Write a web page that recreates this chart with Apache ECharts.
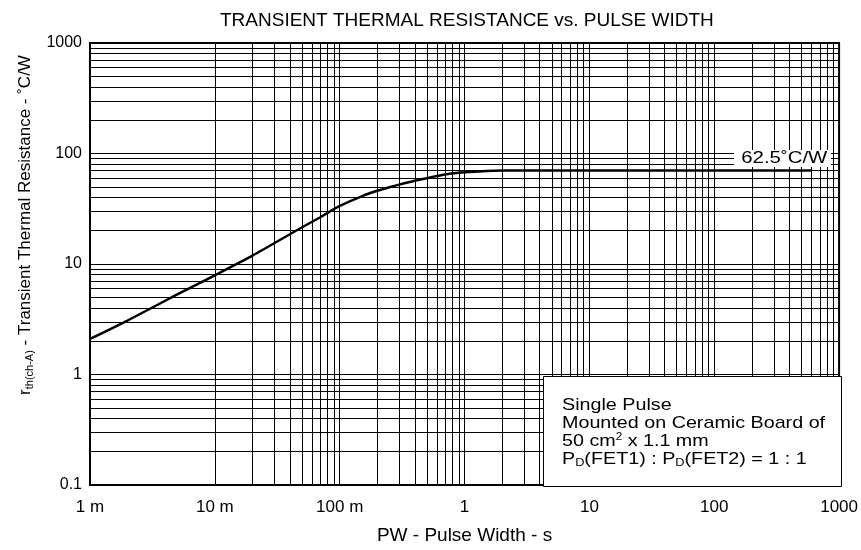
<!DOCTYPE html>
<html>
<head>
<meta charset="utf-8">
<script src="https://cdn.jsdelivr.net/npm/echarts@6/dist/echarts.min.js"></script>
<style>
  html, body { margin: 0; padding: 0; background: #fff; }
  #chart { width: 861px; height: 550px; }
</style>
</head>
<body>
<div id="chart"></div>
<script>
// pulse width (s) and transient thermal resistance (°C/W)
var pulseWidth = [0.001, 0.002, 0.005, 0.01, 0.02, 0.05, 0.07, 0.1, 0.15, 0.2, 0.25, 0.3, 0.4, 0.5, 0.7, 1, 1.5, 2, 10, 100, 600];
var thermalRes = [2.1, 3.08, 5.3, 7.9, 11.9, 21.5, 26.5, 33.5, 41, 46, 49.5, 52.3, 56.7, 59.8, 64.5, 67.5, 69.5, 70, 70, 70, 70];

// tick labels
var xTickNames = ['1 m', '10 m', '100 m', '1', '10', '100', '1000'];
var yTickNames = ['0.1', '1', '10', '100', '1000'];

// minor grid: 2..9 in every decade
var minorSteps = [2, 3, 4, 5, 6, 7, 8, 9];
var xDecades = [0.001, 0.01, 0.1, 1, 10, 100];
var yDecades = [0.1, 1, 10, 100];

var font = 'Liberation Sans, Arial, sans-serif';

var chart = echarts.init(document.getElementById('chart'));

var gridLines = [];
xDecades.forEach(function (d) {
    minorSteps.forEach(function (m) { gridLines.push({ xAxis: d * m }); });
});
yDecades.forEach(function (d) {
    minorSteps.forEach(function (m) { gridLines.push({ yAxis: d * m }); });
});

var curve = pulseWidth.map(function (x, i) { return [x, thermalRes[i]]; });

var option = {
    animation: false,
    backgroundColor: '#fff',
    title: {
        text: 'TRANSIENT THERMAL RESISTANCE vs. PULSE WIDTH',
        left: 215,
        top: 6,
        textStyle: { fontFamily: font, fontSize: 19, fontWeight: 'normal', color: '#000' }
    },
    grid: {
        left: 90, right: 19, top: 43, bottom: 63,
        show: true, borderColor: '#000', borderWidth: 2, backgroundColor: 'transparent'
    },
    xAxis: {
        type: 'log',
        logBase: 10,
        min: 0.001,
        max: 1000,
        splitNumber: 6,
        name: 'PW - Pulse Width - s',
        nameLocation: 'middle',
        nameGap: 41,
        nameTextStyle: { fontFamily: font, fontSize: 19, color: '#000' },
        axisLine: { show: false },
        axisTick: { show: false },
        axisLabel: {
            margin: 14,
            fontFamily: font, fontSize: 17, color: '#000',
            formatter: function (v) { return xTickNames[Math.round(Math.log10(v)) + 3]; }
        },
        splitLine: { show: true, lineStyle: { color: '#000', width: 1 } }
    },
    yAxis: {
        type: 'log',
        logBase: 10,
        min: 0.1,
        max: 1000,
        splitNumber: 4,
        name: '{a|r}{s|th(ch-A)}{a| - Transient Thermal Resistance - ˚C/W}',
        nameLocation: 'middle',
        nameGap: 55,
        nameTextStyle: {
            fontFamily: font, fontSize: 17, color: '#000', padding: [0, 0, 0, 78],
            rich: {
                a: { fontFamily: font, fontSize: 17, lineHeight: 20, color: '#000' },
                s: { fontFamily: font, fontSize: 11, lineHeight: 20, verticalAlign: 'bottom', color: '#000' }
            }
        },
        axisLine: { show: false },
        axisTick: { show: false },
        axisLabel: {
            margin: 8,
            fontFamily: font, fontSize: 16, color: '#000',
            formatter: function (v) { return yTickNames[Math.round(Math.log10(v)) + 1]; }
        },
        splitLine: { show: true, lineStyle: { color: '#000', width: 1 } }
    },
    series: [
        {
            // minor grid lines, drawn through the axes
            type: 'line',
            data: [[1, 1]],
            symbol: 'none',
            lineStyle: { width: 0, opacity: 0 },
            silent: true,
            z: 1,
            markLine: {
                silent: true,
                symbol: ['none', 'none'],
                label: { show: false },
                lineStyle: { color: '#000', width: 1, type: 'solid' },
                emphasis: { disabled: true },
                data: gridLines
            }
        },
        {
            type: 'line',
            data: curve,
            smooth: 0.2,
            symbol: 'none',
            lineStyle: { color: '#000', width: 2.5 },
            z: 5
        }
    ],
    graphic: [
        {
            type: 'rect',
            z: 100,
            shape: { x: 543.5, y: 376.5, width: 298, height: 110 },
            style: { fill: '#fff', stroke: '#000', lineWidth: 1 }
        },
        {
            type: 'text',
            z: 101,
            x: 562,
            y: 396,
            scaleX: 1.16,
            style: {
                text: 'Single Pulse\nMounted on Ceramic Board of\n50 cm{sup|2} x 1.1 mm\nP{sub|D}(FET1) : P{sub|D}(FET2) = 1 : 1',
                font: '17px ' + font,
                fill: '#000',
                lineHeight: 18,
                rich: {
                    sup: { fontSize: 10, lineHeight: 18, verticalAlign: 'top', fill: '#000', fontFamily: font },
                    sub: { fontSize: 11, lineHeight: 18, verticalAlign: 'bottom', fill: '#000', fontFamily: font }
                }
            }
        },
        {
            type: 'text',
            z: 101,
            x: 734,
            y: 150,
            scaleX: 1.2,
            style: {
                text: '62.5˚C/W',
                font: '17px ' + font,
                fill: '#000',
                backgroundColor: '#fff',
                padding: [0, 3, 0, 6]
            }
        }
    ]
};

chart.setOption(option);
</script>
</body>
</html>
